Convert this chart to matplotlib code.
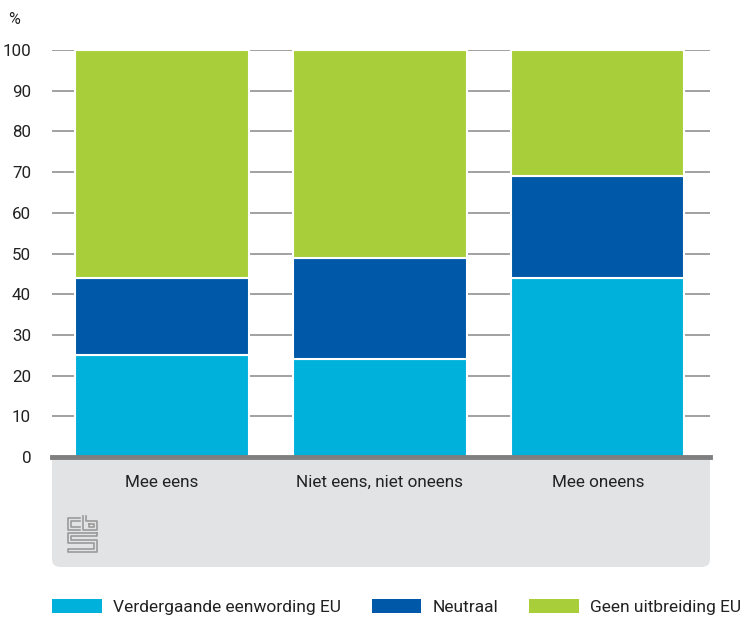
import numpy as np
import matplotlib.pyplot as plt
from matplotlib.patches import FancyBboxPatch, Patch
from matplotlib.lines import Line2D

plt.rcParams['font.family'] = ['Roboto', 'DejaVu Sans']

categorieen = ['Mee eens', 'Niet eens, niet oneens', 'Mee oneens']
reeksen = ['Verdergaande eenwording EU', 'Neutraal', 'Geen uitbreiding EU']
verdergaand = [25, 24, 44]
neutraal = [19, 25, 25]
geen_uitbreiding = [56, 51, 31]
kleuren = ['#00b1dc', '#0058a8', '#a8cf3a']

W, H = 752, 617
fig = plt.figure(figsize=(W / 100, H / 100), dpi=100)


def px(x, y):
    # pixel (vanaf linksboven) naar figuurcoordinaten
    return x / W, 1 - y / H


# grijs vlak onder de as
paneel = FancyBboxPatch((52 / W, 1 - 567 / H), 658 / W, 127 / H,
                        boxstyle='round,pad=0,rounding_size=0.012',
                        transform=fig.transFigure, facecolor='#e2e3e5',
                        edgecolor='none', zorder=0)
fig.patches.append(paneel)

ax = fig.add_axes([52 / W, 1 - 457 / H, 658 / W, 407 / H])
ax.set_zorder(1)

x = np.arange(len(categorieen))
onder = np.zeros(len(categorieen))
for waarden, naam, kleur in zip([verdergaand, neutraal, geen_uitbreiding], reeksen, kleuren):
    ax.bar(x, waarden, width=0.795, bottom=onder, color=kleur, edgecolor='white',
           linewidth=1.5, label=naam, zorder=3, clip_on=False)
    onder += np.array(waarden)

ax.set_xlim(-0.505, 2.515)
ax.set_ylim(0, 100)
ax.set_yticks(range(0, 101, 10))
ax.grid(axis='y', color='#9a9a9a', linewidth=1.3, zorder=1)
ax.tick_params(axis='y', length=0, pad=15, labelsize=12.2, labelcolor='#222222')
ax.tick_params(axis='x', length=0, pad=13, labelsize=12.3, labelcolor='#222222')
ax.set_xticks(x)
ax.set_xticklabels(categorieen)
for s in ['top', 'right', 'left']:
    ax.spines[s].set_visible(False)
ax.spines['bottom'].set_color('#7f7f7f')
ax.spines['bottom'].set_linewidth(3.5)
ax.spines['bottom'].set_zorder(4)

fig.text(*px(8, 20), '%', fontsize=11.5, color='#222222', va='center', ha='left')

# cbs-logo (benadering)
logo = [
    [(80, 518), (68, 518), (68, 530), (80, 530)],
    [(80, 521), (71, 521), (71, 527), (80, 527)],
    [(83, 516), (83, 530), (97, 530), (97, 521), (86, 521), (86, 516)],
    [(89, 524), (94, 524), (94, 527), (89, 527), (89, 524)],
    [(97, 533), (68, 533), (68, 543), (94, 543), (94, 549), (68, 549), (68, 552), (97, 552),
     (97, 540), (71, 540), (71, 536), (97, 536), (97, 533)],
]
for pad in logo:
    xs, ys = zip(*[px(a, b) for a, b in pad])
    fig.add_artist(Line2D(xs, ys, color='#9a9a9a', linewidth=1.2, transform=fig.transFigure))

handles = [Patch(facecolor=k, edgecolor='none') for k in kleuren]
fig.legend(handles, reeksen, loc='center left', bbox_to_anchor=(px(52, 607)),
           ncol=3, frameon=False, fontsize=12.5, handlelength=2.87, handleheight=0.92,
           handletextpad=0.63, columnspacing=1.78, borderpad=0, borderaxespad=0,
           labelcolor='#222222')

fig.savefig('out.png', dpi=100)
